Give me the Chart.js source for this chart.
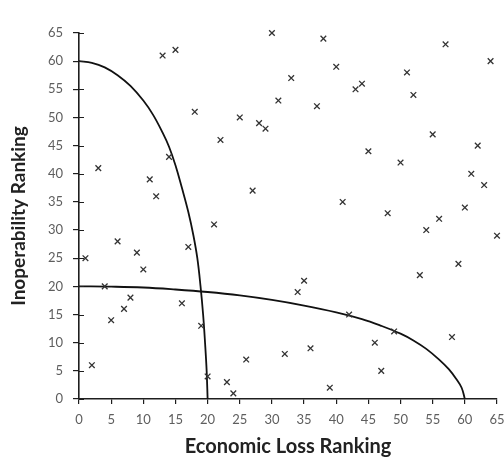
<!DOCTYPE html>
<html>
<head>
<meta charset="utf-8">
<script src="https://cdn.jsdelivr.net/npm/chart.js@4/dist/chart.umd.min.js"></script>
<style>
  html, body { margin: 0; padding: 0; background: #fff; }
  #wrap { width: 504px; height: 459px; }
</style>
</head>
<body>
<div id="wrap"><canvas id="c" width="504" height="459"></canvas></div>
<script>
// Economic loss rank vs. inoperability rank of each sector
const economicLossRank = [1,2,3,4,5,6,7,8,9,10,11,12,13,14,15,16,17,18,19,20,21,22,23,24,25,26,27,28,29,30,31,32,33,34,35,36,37,38,39,40,41,42,43,44,45,46,47,48,49,50,51,52,53,54,55,56,57,58,59,60,61,62,63,64,65];
const inoperabilityRank = [25,6,41,20,14,28,16,18,26,23,39,36,61,43,62,17,27,51,13,4,31,46,3,1,50,7,37,49,48,65,53,8,57,19,21,9,52,64,2,59,35,15,55,56,44,10,5,33,12,42,58,54,22,30,47,32,63,11,24,34,40,45,38,60,29];

// Boundary curve crossing the inoperability axis at 60 and the loss axis at 20
const boundaryAX = [0, 2, 4, 6, 8, 10, 11.5, 13, 14, 15, 16, 17, 17.8, 18.4, 18.9, 19.3, 19.6, 19.85, 20];
const boundaryAY = [60, 59.7, 58.9, 57.5, 55.6, 53, 50.5, 47.3, 44.8, 41.5, 37.5, 33.2, 29, 25, 20, 15, 10, 5, 0];

// Boundary curve crossing the inoperability axis at 20 and the loss axis at 60
const boundaryBX = [0, 5, 10, 15, 20, 25, 30, 35, 40, 44, 47, 50, 52, 54, 56, 57.5, 58.7, 59.5, 60];
const boundaryBY = [20, 19.95, 19.8, 19.45, 19, 18.4, 17.6, 16.6, 15.4, 14.2, 13, 11.6, 10.4, 8.9, 7, 5.3, 3.5, 2, 0];

// Axis tick values
const tickValues = [0,5,10,15,20,25,30,35,40,45,50,55,60,65];

const toPoints = (xs, ys) => xs.map((x, i) => ({ x: x, y: ys[i] }));

const fontFamily = 'Lato, "Open Sans", "Liberation Sans", sans-serif';
const axisColor = '#1e1e1e';

// Inner half of the value-axis tick marks (they cross the axis line)
const innerTicks = {
  id: 'innerTicks',
  afterDatasetsDraw(chart) {
    const y = chart.scales.y;
    const ctx = chart.ctx;
    ctx.save();
    ctx.strokeStyle = axisColor;
    ctx.lineWidth = 1.2;
    ctx.beginPath();
    y.ticks.forEach(t => {
      const py = Math.round(y.getPixelForValue(t.value)) + 0.5;
      ctx.moveTo(y.right, py);
      ctx.lineTo(y.right + 5, py);
    });
    ctx.stroke();
    ctx.restore();
  }
};

function baseAxis(tickLen, pad) {
  return {
    type: 'linear',
    min: 0,
    max: 65,
    afterBuildTicks: (scale) => { scale.ticks = tickValues.map(v => ({ value: v })); },
    grid: {
      display: true,
      drawOnChartArea: false,
      drawTicks: true,
      tickLength: tickLen,
      color: axisColor,
      lineWidth: 1.2
    },
    border: { display: true, color: axisColor, width: 1.6 },
    ticks: {
      color: '#5e5e5e',
      padding: pad,
      font: { family: fontFamily, size: 13 }
    }
  };
}

new Chart(document.getElementById('c'), {
  type: 'scatter',
  data: {
    datasets: [
      {
        label: 'Sectors',
        data: toPoints(economicLossRank, inoperabilityRank),
        pointStyle: 'crossRot',
        pointRadius: 4,
        pointBorderWidth: 1.3,
        borderColor: '#333',
        backgroundColor: '#333',
        showLine: false,
        clip: false
      },
      {
        label: 'Boundary A',
        data: toPoints(boundaryAX, boundaryAY),
        showLine: true,
        pointRadius: 0,
        borderColor: '#111',
        borderWidth: 1.8,
        tension: 0.4,
        fill: false
      },
      {
        label: 'Boundary B',
        data: toPoints(boundaryBX, boundaryBY),
        showLine: true,
        pointRadius: 0,
        borderColor: '#111',
        borderWidth: 1.8,
        tension: 0.4,
        fill: false
      }
    ]
  },
  options: {
    responsive: false,
    animation: false,
    layout: { padding: { top: 33, left: 0, right: 7, bottom: 0 } },
    plugins: {
      legend: { display: false },
      tooltip: { enabled: false }
    },
    scales: {
      x: Object.assign(baseAxis(5, 8), {
        position: 'bottom',
        afterFit: (s) => { s.height = 60; s.paddingLeft = 0; s.paddingRight = 0; },
        title: {
          display: true,
          text: 'Economic Loss Ranking',
          color: '#222',
          font: { family: fontFamily, size: 20, weight: 'bold' },
          padding: { top: 4, bottom: 0 }
        }
      }),
      y: Object.assign(baseAxis(6, 10), {
        position: 'left',
        afterFit: (s) => { s.width = 79; s.paddingTop = 0; s.paddingBottom = 0; },
        title: {
          display: true,
          text: 'Inoperability Ranking',
          color: '#222',
          font: { family: fontFamily, size: 19, weight: 'bold' },
          padding: { top: 7, bottom: 4 }
        }
      })
    }
  },
  plugins: [innerTicks]
});
</script>
</body>
</html>
